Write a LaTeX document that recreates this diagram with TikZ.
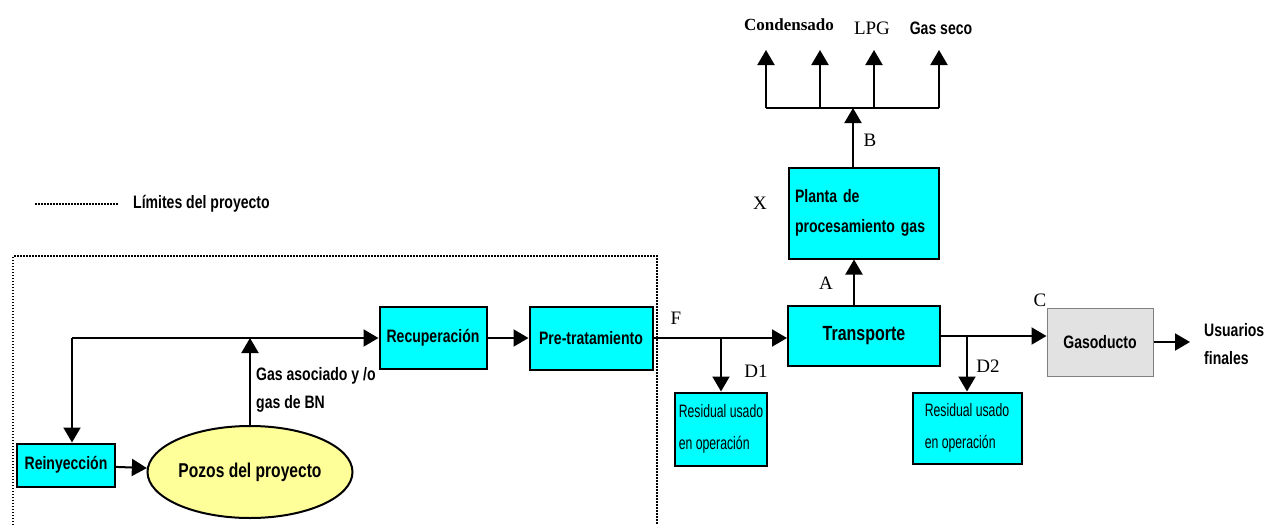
\documentclass[tikz,border=0pt]{standalone}
\usepackage{fontspec}
\setmainfont{Liberation Serif}
\newfontfamily\narrowsf[FakeStretch=0.78]{Liberation Sans}
\newfontfamily\condsf[FakeStretch=0.68]{Liberation Sans}
\usetikzlibrary{arrows.meta,calc,positioning,shapes.geometric}
\definecolor{boxcyan}{HTML}{00FFFF}
\definecolor{pozofill}{HTML}{FFFF99}
\definecolor{ductfill}{HTML}{E2E2E2}

\begin{document}
\begin{tikzpicture}[x=1pt, y=-1pt,
    block/.style={rectangle, draw, line width=2pt, fill=boxcyan,
        font=\narrowsf\bfseries\fontsize{18}{21}\selectfont, inner sep=2pt},
    resid/.style={rectangle, draw, line width=2pt, fill=boxcyan, align=left,
        font=\condsf\fontsize{18}{32}\selectfont, inner sep=4pt},
    ductbox/.style={rectangle, draw=gray, line width=1pt, fill=ductfill,
        font=\narrowsf\bfseries\fontsize{18}{21}\selectfont},
    tag/.style={font=\fontsize{19}{22}\selectfont, inner sep=1pt},
    lbl/.style={font=\narrowsf\bfseries\fontsize{18}{28}\selectfont, align=left, inner sep=1pt},
    line/.style={draw, line width=2pt, -{Triangle[length=15pt,width=17pt]}},
    limit/.style={draw, line width=1.5pt, dash pattern=on 1.5pt off 1.5pt}
    ]
    \useasboundingbox (0,0) rectangle (1267,525);

    % Nodes
    \node [block, minimum width=107pt, minimum height=62pt] (recup) at (433,338) {Recuperación};
    \node [block, minimum width=123pt, minimum height=63pt, right of=recup, node distance=158pt] (pretrat) {Pre-tratamiento};
    \node [block, minimum width=152pt, minimum height=60pt, right of=pretrat, node distance=273pt, yshift=2pt,
        font=\narrowsf\bfseries\fontsize{20.5}{24}\selectfont] (transp) {Transporte};
    \node [block, minimum width=150pt, minimum height=91pt, text width=138pt, align=left,
        font=\narrowsf\bfseries\fontsize{18}{30}\selectfont, above of=transp, node distance=123pt] (planta) {Planta de\\procesamiento gas};
    \node [ductbox, minimum width=106pt, minimum height=68pt, right of=transp, node distance=236pt, yshift=-6pt] (gasod) {Gasoducto};
    \node [block, minimum width=98pt, minimum height=43pt] (reiny) at (66,465) {Reinyección};
    \node [ellipse, draw, line width=2pt, fill=pozofill, minimum width=205pt, minimum height=92pt, inner sep=0pt,
        font=\narrowsf\bfseries\fontsize{20}{24}\selectfont] (pozos) at (250,472) {Pozos del proyecto};
    \node [resid, minimum width=89pt, minimum height=73pt] (res1) at (721,429) {Residual usado\\en operación};
    \node [resid, minimum width=109pt, minimum height=71pt] (res2) at (967,428) {Residual usado\\en operación};

    % Paths
    \coordinate (jl) at (72,338);
    \draw[line] (jl) -- (recup.west);
    \draw[line] (jl) -- (jl |- reiny.north);
    \draw[line] (pozos.north) -- (pozos.north |- jl);
    \draw[line] (reiny) -- (pozos);
    \draw[line] (recup) -- (pretrat);
    \draw[line] (pretrat.east) -- (pretrat.east -| transp.west);
    \draw[line] (res1.north |- pretrat.east) -- (res1.north);
    \draw[line] (transp.east) -- (transp.east -| gasod.west);
    \draw[line] (res2.north |- transp.east) -- (res2.north);
    \coordinate (usr) at (1190,342);
    \draw[line] (gasod.east) -- (usr);
    \coordinate (pa) at ($(transp.north)+(-10,0)$);
    \draw[line] (pa) -- (pa |- planta.south);
    \coordinate (split) at (853,108);
    \draw[line] (split |- planta.north) -- (split);
    \coordinate (c1) at (766,108);
    \coordinate (c4) at (939,108);
    \draw[line width=2pt] (c1) -- (c4);
    \foreach \x/\n in {766/o1,820/o2,874/o3,939/o4} {
        \coordinate (\n) at (\x,108);
        \draw[line] (\n) -- ++(0,-58);
    }

    % Labels
    \node [lbl, anchor=north west] (gaslbl) at (255,366) {Gas asociado y /o\\gas de BN};
    \node [lbl, anchor=west] (usuarios) at (1203,344) {Usuarios\\finales};
    \node [tag, font=\bfseries\fontsize{17}{20}\selectfont] (cond) at (789,25) {Condensado};
    \node [tag] (lpg) at (872,28) {LPG};
    \node [lbl] (gseco) at (941,28) {Gas seco};
    \node [tag] (tf) at (676,318) {F};
    \node [tag] (td1) at (756,371) {D1};
    \node [tag] (td2) at (988,366) {D2};
    \node [tag] (ta) at (826,283) {A};
    \node [tag] (tb) at (870,140) {B};
    \node [tag] (tc) at (1040,300) {C};
    \node [tag] (tx) at (760,203) {X};

    % Limits
    \node [lbl, anchor=west] (leyenda) at (132,204) {Límites del proyecto};
    \coordinate (ly1) at (35,204);
    \coordinate (ly2) at (118,204);
    \draw[limit] (ly1) -- (ly2);
    \draw[limit] (13,525) -- (13,256) -- (657,256) -- (657,525);
\end{tikzpicture}
\end{document}
